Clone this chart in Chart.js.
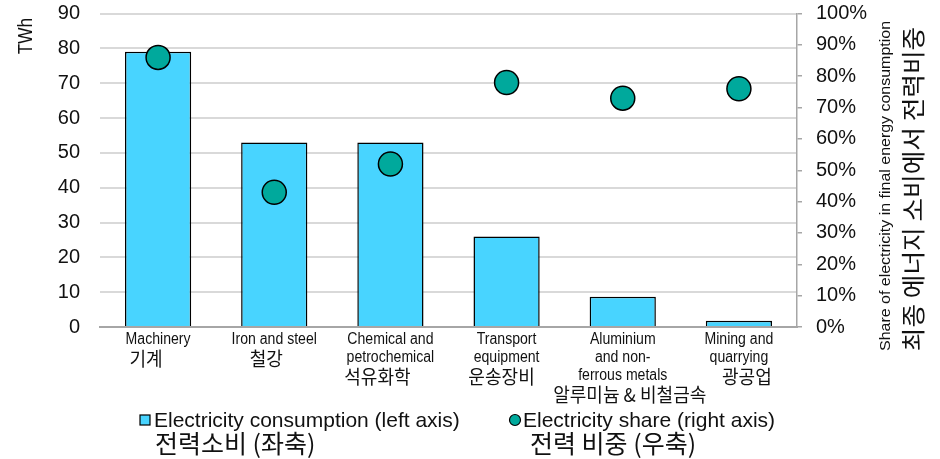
<!DOCTYPE html>
<html>
<head>
<meta charset="utf-8">
<script src="https://cdn.jsdelivr.net/npm/chart.js@4/dist/chart.umd.min.js"></script>
<style>
  html, body { margin: 0; padding: 0; background: #fff; }
  #wrap { width: 940px; height: 459px; }
</style>
</head>
<body>
<div id="wrap"><canvas id="c" width="940" height="459"></canvas></div>
<script>
// Industry sectors: English lines and Korean name
const categoriesEn = [
  ['Machinery'],
  ['Iron and steel'],
  ['Chemical and', 'petrochemical'],
  ['Transport', 'equipment'],
  ['Aluminium', 'and non-', 'ferrous metals'],
  ['Mining and', 'quarrying']
];
const categoriesKo = ['기계', '철강', '석유화학', '운송장비', '알루미늄 & 비철금속', '광공업'];

// Electricity consumption, TWh (left axis)
const consumptionTWh = [79, 53, 53, 26, 8.7, 1.8];
// Share of electricity in final energy consumption, % (right axis)
const electricityShare = [86, 43, 52, 78, 73, 76];

const leftTicks = { min: 0, max: 90, step: 10 };
const rightTicks = { min: 0, max: 100, step: 10 };

const legendItems = [
  { en: 'Electricity consumption (left axis)', ko: '전력소비 (좌축)' },
  { en: 'Electricity share (right axis)', ko: '전력 비중 (우축)' }
];

const BAR_COLOR = '#48D4FF';
const DOT_COLOR = '#00A99C';
const TEXT = '#111';
const SANS = '"Liberation Sans", Arial, sans-serif';
const KR = '"Noto Sans CJK KR", "Noto Sans", sans-serif';

// Korean names sit slightly off the English block centre
const koNudge = [-12, -8, -13, -5, 7, 8];

// Draw text squeezed or stretched along its own direction
function scaledText(ctx, text, x, y, sx) {
  ctx.save();
  ctx.translate(x, y);
  ctx.scale(sx, 1);
  ctx.fillText(text, 0, 0);
  ctx.restore();
}

// Category labels (English + Korean) under the x axis
const categoryLabels = {
  id: 'categoryLabels',
  afterDraw(chart) {
    const ctx = chart.ctx;
    const xs = chart.scales.x;
    const top = chart.chartArea.bottom;
    ctx.save();
    ctx.textAlign = 'center';
    ctx.textBaseline = 'middle';
    ctx.fillStyle = TEXT;
    categoriesEn.forEach((lines, i) => {
      const cx = xs.getPixelForValue(i);
      ctx.font = '16px ' + SANS;
      lines.forEach((ln, j) => {
        scaledText(ctx, ln, cx, top + 13 + j * 18, 0.88);
      });
      ctx.font = '19px ' + KR;
      scaledText(ctx, categoriesKo[i], cx + koNudge[i], top + 14 + lines.length * 18, 0.95);
    });
    ctx.restore();
  }
};

// Two-line bilingual legend below the chart
const bilingualLegend = {
  id: 'bilingualLegend',
  afterDraw(chart) {
    const ctx = chart.ctx;
    const y1 = 421, y2 = 443;
    ctx.save();
    ctx.textBaseline = 'middle';
    ctx.textAlign = 'left';
    ctx.strokeStyle = '#000';
    ctx.lineWidth = 1.2;
    // bar swatch
    ctx.fillStyle = BAR_COLOR;
    ctx.fillRect(140, y1 - 6, 10, 10);
    ctx.strokeRect(140, y1 - 6, 10, 10);
    // dot swatch
    ctx.beginPath();
    ctx.arc(515, y1 - 1, 5.5, 0, Math.PI * 2);
    ctx.fillStyle = DOT_COLOR;
    ctx.fill();
    ctx.stroke();
    ctx.fillStyle = TEXT;
    const textX = [154, 523];
    const koX = [155, 530];
    legendItems.forEach((it, i) => {
      ctx.font = '21px ' + SANS;
      ctx.fillText(it.en, textX[i], y1);
      ctx.font = '25px ' + KR;
      ctx.fillText(it.ko, koX[i], y2);
    });
    ctx.restore();
  }
};

// Rotated axis titles
const axisTitles = {
  id: 'axisTitles',
  afterDraw(chart) {
    const ctx = chart.ctx;
    ctx.save();
    ctx.fillStyle = TEXT;
    ctx.textAlign = 'center';
    ctx.textBaseline = 'middle';
    const vertical = (text, font, x, y, stretch) => {
      ctx.save();
      ctx.translate(x, y);
      ctx.rotate(-Math.PI / 2);
      ctx.scale(stretch, 1);
      ctx.font = font;
      ctx.fillText(text, 0, 0);
      ctx.restore();
    };
    vertical('TWh', '20px ' + SANS, 26, 36, 0.86);
    vertical('Share of electricity in final energy consumption', '14px ' + SANS, 886, 186, 1.14);
    vertical('최종 에너지 소비에서 전력비중', '24px ' + KR, 913, 189, 1.07);
    ctx.restore();
  }
};

new Chart(document.getElementById('c'), {
  data: {
    labels: categoriesKo,
    datasets: [
      {
        type: 'scatter',
        label: 'Electricity share (right axis)',
        data: electricityShare.map((v, i) => ({ x: i, y: v })),
        yAxisID: 'y1',
        xAxisID: 'x',
        showLine: false,
        pointRadius: 12,
        pointHoverRadius: 12,
        pointBackgroundColor: DOT_COLOR,
        pointBorderColor: '#000',
        pointBorderWidth: 1.5,
        order: 0
      },
      {
        type: 'bar',
        label: 'Electricity consumption (left axis)',
        data: consumptionTWh,
        yAxisID: 'y',
        backgroundColor: BAR_COLOR,
        borderColor: '#000',
        borderWidth: 1.5,
        barPercentage: 0.57,
        categoryPercentage: 1,
        order: 1
      }
    ]
  },
  options: {
    responsive: false,
    animation: false,
    events: [],
    layout: { padding: { top: 13, left: 0, right: 0, bottom: 0 } },
    plugins: {
      legend: { display: false },
      title: { display: false },
      tooltip: { enabled: false }
    },
    scales: {
      x: {
        type: 'category',
        offset: true,
        grid: { display: false },
        border: { display: true, color: '#a6a6a6', width: 2 },
        ticks: { display: false },
        afterFit(s) { s.height = 132; s.paddingLeft = 0; s.paddingRight = 0; }
      },
      y: {
        position: 'left',
        min: leftTicks.min,
        max: leftTicks.max,
        ticks: {
          stepSize: leftTicks.step,
          color: TEXT,
          font: { family: SANS, size: 20 },
          padding: 20
        },
        grid: { color: '#d9d9d9', lineWidth: 2, drawTicks: false },
        border: { display: false },
        afterFit(s) { s.width = 100; s.paddingTop = 0; s.paddingBottom = 0; }
      },
      y1: {
        position: 'right',
        min: rightTicks.min,
        max: rightTicks.max,
        ticks: {
          stepSize: rightTicks.step,
          color: TEXT,
          font: { family: SANS, size: 20 },
          padding: 14,
          callback: v => v + '%'
        },
        grid: { drawOnChartArea: false, drawTicks: true, tickLength: 5, color: '#a6a6a6', lineWidth: 1.5 },
        border: { display: true, color: '#a6a6a6', width: 1.5 },
        afterFit(s) { s.width = 143; s.paddingTop = 0; s.paddingBottom = 0; }
      }
    }
  },
  plugins: [categoryLabels, bilingualLegend, axisTitles]
});
</script>
</body>
</html>
